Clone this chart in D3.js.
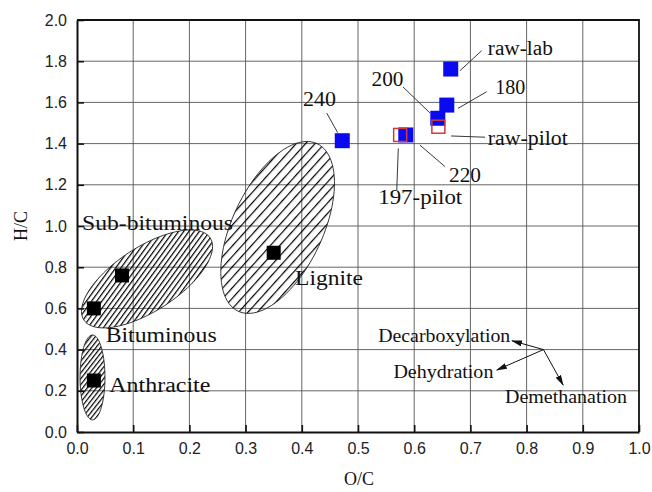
<!DOCTYPE html>
<html>
<head>
<meta charset="utf-8">
<script src="https://cdn.jsdelivr.net/npm/d3@7"></script>
<style>
  body { margin: 0; background: #fff; }
  .tick text { font-family: "Liberation Sans", Arial, sans-serif; font-size: 16px; fill: #222; }
  .lab { font-family: "Liberation Serif", "Times New Roman", serif; fill: #111; }
</style>
</head>
<body>
<svg id="chart"></svg>
<script>
// coal ranks (black squares)
const rankNames = ["Anthracite", "Bituminous", "Sub-bituminous", "Lignite"];
const rankOC = [0.03, 0.03, 0.08, 0.35];
const rankHC = [0.25, 0.60, 0.76, 0.87];

// lab hydrochars (blue squares)
const labNames = ["raw-lab", "180", "200", "220", "240"];
const labOC = [0.665, 0.658, 0.642, 0.585, 0.472];
const labHC = [1.762, 1.587, 1.523, 1.442, 1.414];

// pilot samples (red open squares)
const pilotNames = ["raw-pilot", "197-pilot"];
const pilotOC = [0.643, 0.575];
const pilotHC = [1.482, 1.442];

// rank regions: centre + two half-axis vectors, all in O/C , H/C units
const regionNames = ["Anthracite", "Bituminous", "Lignite"];
const regionCentre = [[0.0276, 0.265], [0.1246, 0.743], [0.357, 0.993]];
const regionAxisA = [[0, 0.206], [0.1124, 0.199], [0.070, 0.407]];
const regionAxisB = [[0.0222, 0], [0.031, -0.130], [0.073, -0.092]];

const xTicks = [0, 0.1, 0.2, 0.3, 0.4, 0.5, 0.6, 0.7, 0.8, 0.9, 1.0];
const yTicks = [0, 0.2, 0.4, 0.6, 0.8, 1.0, 1.2, 1.4, 1.6, 1.8, 2.0];

// reaction pathway arrows
const pathOrigin = [0.83, 0.40];
const pathNames = ["Decarboxylation", "Dehydration", "Demethanation"];
const pathTips = [[0.774, 0.443], [0.747, 0.301], [0.865, 0.228]];

// ---- layout (label placement in data units, text widths in px) ----
const labels = [
  {t: "raw-lab", x: 0.731, y: 1.83, w: 65, from: [0.720, 1.851], to: [0.6815, 1.754]},
  {t: "180", x: 0.744, y: 1.641, w: 30, from: [0.729, 1.652], to: [0.678, 1.571]},
  {t: "200", x: 0.524, y: 1.68, w: 32, from: [0.580, 1.675], to: [0.628, 1.549]},
  {t: "220", x: 0.662, y: 1.215, w: 32, from: [0.610, 1.393], to: [0.655, 1.288]},
  {t: "240", x: 0.402, y: 1.584, w: 33, from: [0.4443, 1.5485], to: [0.4639, 1.453]},
  {t: "raw-pilot", x: 0.731, y: 1.393, w: 80, from: [0.6655, 1.437], to: [0.726, 1.431]},
  {t: "197-pilot", x: 0.536, y: 1.107, w: 84, from: [0.5717, 1.377], to: [0.569, 1.175]},
  {t: "Sub-bituminous", x: 0.009, y: 0.98, w: 151},
  {t: "Bituminous", x: 0.051, y: 0.438, w: 111},
  {t: "Anthracite", x: 0.0575, y: 0.196, w: 101},
  {t: "Lignite", x: 0.388, y: 0.714, w: 68}
];
const pathLabels = [
  {x: 0.536, y: 0.438, w: 132},
  {x: 0.563, y: 0.264, w: 100},
  {x: 0.7616, y: 0.142, w: 122}
];
const hatch = [{gap: 3.6, angle: 38}, {gap: 4.2, angle: 36}, {gap: 7, angle: 42}];

const W = 652, H = 492;
const margin = {top: 20, right: 13, bottom: 60, left: 77};
const width = W - margin.left - margin.right;
const height = H - margin.top - margin.bottom;

const svg = d3.select("#chart").attr("width", W).attr("height", H);
const g = svg.append("g").attr("transform", `translate(${margin.left},${margin.top})`);

const x = d3.scaleLinear().domain([0, 1]).range([0, width]);
const y = d3.scaleLinear().domain([0, 2]).range([height, 0]);

const defs = svg.append("defs");
hatch.forEach((h, i) => {
  const p = defs.append("pattern")
    .attr("id", "hatch" + i)
    .attr("patternUnits", "userSpaceOnUse")
    .attr("width", h.gap).attr("height", h.gap)
    .attr("patternTransform", `rotate(${h.angle})`);
  p.append("line").attr("x1", 0.6).attr("y1", 0).attr("x2", 0.6).attr("y2", h.gap)
    .attr("stroke", "#000").attr("stroke-width", 1.2);
});
defs.append("marker")
  .attr("id", "arrow")
  .attr("markerUnits", "userSpaceOnUse")
  .attr("markerWidth", 11).attr("markerHeight", 6)
  .attr("refX", 10).attr("refY", 3)
  .attr("orient", "auto")
  .append("path").attr("d", "M0,0 L11,3 L0,6 Z").attr("fill", "#111");

// grid
g.append("g").selectAll("line")
  .data(xTicks.slice(1, -1))
  .join("line")
  .attr("x1", d => x(d)).attr("x2", d => x(d))
  .attr("y1", 0).attr("y2", height)
  .attr("stroke", "#555").attr("stroke-width", 0.9);
g.append("g").selectAll("line")
  .data(yTicks.slice(1, -1))
  .join("line")
  .attr("y1", d => y(d)).attr("y2", d => y(d))
  .attr("x1", 0).attr("x2", width)
  .attr("stroke", "#555").attr("stroke-width", 0.9);

// rank regions
const ellipsePath = (c, a, b) => {
  const pts = d3.range(0, 96).map(k => {
    const t = k / 96 * 2 * Math.PI;
    return [c[0] + a[0] * Math.cos(t) + b[0] * Math.sin(t),
            c[1] + a[1] * Math.cos(t) + b[1] * Math.sin(t)];
  });
  return d3.line().x(d => x(d[0])).y(d => y(d[1])).curve(d3.curveLinearClosed)(pts);
};
g.append("g").selectAll("path")
  .data(regionNames)
  .join("path")
  .attr("d", (d, i) => ellipsePath(regionCentre[i], regionAxisA[i], regionAxisB[i]))
  .attr("fill", (d, i) => `url(#hatch${i})`)
  .attr("stroke", "#222").attr("stroke-width", 0.9);

// axes
const xAxis = d3.axisBottom(x).tickValues(xTicks).tickFormat(d3.format(".1f"))
  .tickSizeInner(-7).tickSizeOuter(0).tickPadding(11);
const yAxis = d3.axisLeft(y).tickValues(yTicks).tickFormat(d3.format(".1f"))
  .tickSizeInner(-7).tickSizeOuter(0).tickPadding(10);

const xAxisG = g.append("g").attr("transform", `translate(0,${height})`).call(xAxis);
const yAxisG = g.append("g").call(yAxis);
[xAxisG, yAxisG].forEach(a => {
  a.select(".domain").attr("stroke", "#111").attr("stroke-width", 2);
  a.selectAll(".tick line").attr("stroke", "#111").attr("stroke-width", 1.6);
});

// frame top / right
g.append("path")
  .attr("d", `M0,0 H${width} V${height}`)
  .attr("fill", "none").attr("stroke", "#111").attr("stroke-width", 1.8);

// axis titles
g.append("text").attr("class", "lab")
  .attr("x", width / 2 + 1).attr("y", height + 53)
  .attr("text-anchor", "middle").attr("font-size", 18)
  .text("O/C");
g.append("text").attr("class", "lab")
  .attr("transform", `translate(-50,${height / 2}) rotate(-90)`)
  .attr("text-anchor", "middle").attr("font-size", 18)
  .text("H/C");

// leader lines
g.append("g").selectAll("line")
  .data(labels.filter(d => d.from))
  .join("line")
  .attr("x1", d => x(d.from[0])).attr("y1", d => y(d.from[1]))
  .attr("x2", d => x(d.to[0])).attr("y2", d => y(d.to[1]))
  .attr("stroke", "#222").attr("stroke-width", 0.9);

// markers
const sq = 14;
g.append("g").selectAll("rect")
  .data(rankNames)
  .join("rect")
  .attr("x", (d, i) => x(rankOC[i]) - sq / 2)
  .attr("y", (d, i) => y(rankHC[i]) - sq / 2)
  .attr("width", sq).attr("height", sq)
  .attr("fill", "#000");
g.append("g").selectAll("rect")
  .data(labNames)
  .join("rect")
  .attr("x", (d, i) => x(labOC[i]) - 7.5)
  .attr("y", (d, i) => y(labHC[i]) - 7.5)
  .attr("width", 15).attr("height", 15)
  .attr("fill", "#0a0af0");
g.append("g").selectAll("rect")
  .data(pilotNames)
  .join("rect")
  .attr("x", (d, i) => x(pilotOC[i]) - 6.5)
  .attr("y", (d, i) => y(pilotHC[i]) - 6.5)
  .attr("width", 13).attr("height", 13)
  .attr("fill", "none").attr("stroke", "#d03a3a").attr("stroke-width", 1.5);

// labels
g.append("g").selectAll("text")
  .data(labels)
  .join("text")
  .attr("class", "lab")
  .attr("x", d => x(d.x)).attr("y", d => y(d.y))
  .attr("font-size", 20)
  .attr("textLength", d => d.w).attr("lengthAdjust", "spacingAndGlyphs")
  .text(d => d.t);

// reaction pathways
g.append("g").selectAll("line")
  .data(pathTips)
  .join("line")
  .attr("x1", x(pathOrigin[0])).attr("y1", y(pathOrigin[1]))
  .attr("x2", d => x(d[0])).attr("y2", d => y(d[1]))
  .attr("stroke", "#111").attr("stroke-width", 1)
  .attr("marker-end", "url(#arrow)");
g.append("g").selectAll("text")
  .data(pathNames)
  .join("text")
  .attr("class", "lab")
  .attr("x", (d, i) => x(pathLabels[i].x)).attr("y", (d, i) => y(pathLabels[i].y))
  .attr("font-size", 18)
  .attr("textLength", (d, i) => pathLabels[i].w).attr("lengthAdjust", "spacingAndGlyphs")
  .text(d => d);
</script>
</body>
</html>
